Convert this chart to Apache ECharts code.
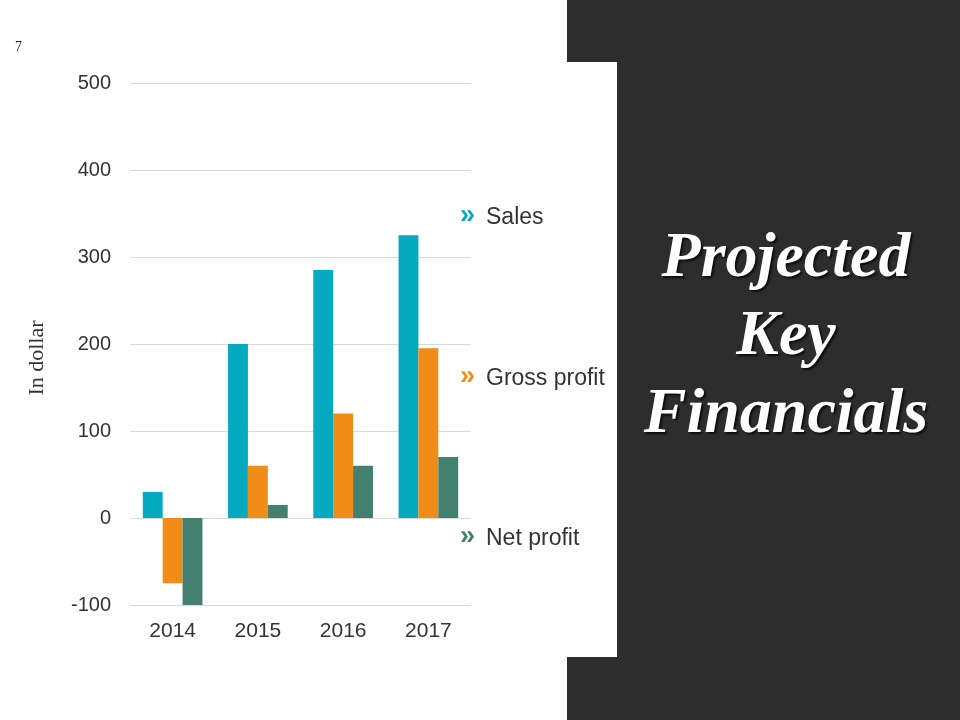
<!DOCTYPE html>
<html><head><meta charset="utf-8">
<script src="https://cdn.jsdelivr.net/npm/echarts@6/dist/echarts.min.js"></script>
<style>html,body{margin:0;padding:0;background:#fff}#c{width:960px;height:720px}</style>
</head><body><div id="c"></div>
<script>
const categories = ['2014', '2015', '2016', '2017'];
const sales = [30, 200, 285, 325];
const grossProfit = [-75, 60, 120, 195];
const netProfit = [-100, 15, 60, 70];
const seriesNames = ['Sales', 'Gross profit', 'Net profit'];
const colors = ['#05A9C0', '#EF8D18', '#43806F'];
const yTicks = { min: -100, max: 500, interval: 100 };

const chart = echarts.init(document.getElementById('c'));
const legendY = [218, 379, 539];
const graphics = [
  { type: 'rect', shape: { x: 567, y: 0, width: 393, height: 720 }, style: { fill: '#2d2d2d' }, z: -10 },
  { type: 'rect', shape: { x: 567, y: 62, width: 50, height: 595 }, style: { fill: '#ffffff' }, z: -9 },
  { type: 'text', x: 15, y: 47, style: { text: '7', font: '14px "Liberation Serif", serif', fill: '#222', verticalAlign: 'middle' } },
  { type: 'text', x: 37, y: 358, rotation: Math.PI / 2, style: { text: 'In dollar', font: '22px "Liberation Serif", serif', fill: '#333', align: 'center', verticalAlign: 'middle' } },
  { type: 'text', x: 786, y: 337, style: {
      text: 'Projected\nKey\nFinancials', font: 'italic bold 64px "Liberation Serif", serif', fill: '#ffffff',
      align: 'center', verticalAlign: 'middle', lineHeight: 78,
      textShadowColor: 'rgba(0,0,0,0.7)', textShadowBlur: 2, textShadowOffsetX: 2, textShadowOffsetY: 2 } }
];
seriesNames.forEach((n, i) => {
  graphics.push({ type: 'text', x: 460, y: legendY[i] - 2, style: {
    text: '»', font: 'bold 27px "Liberation Sans", Arial', fill: colors[i], verticalAlign: 'middle' } });
  graphics.push({ type: 'text', x: 486, y: legendY[i], style: {
    text: n, font: '23px "Liberation Sans", Arial', fill: '#333', verticalAlign: 'middle' } });
});

chart.setOption({
  animation: false,
  grid: { left: 130, right: 489, top: 83, bottom: 115 },
  xAxis: { type: 'category', data: categories, position: 'bottom',
    axisLine: { show: false }, axisTick: { show: false },
    axisLabel: { color: '#333', fontSize: 21, fontFamily: '"Liberation Sans", Arial', margin: 16 } },
  yAxis: { type: 'value', min: yTicks.min, max: yTicks.max, interval: yTicks.interval,
    axisLine: { show: false }, axisTick: { show: false },
    axisLabel: { color: '#333', fontSize: 20, fontFamily: '"Liberation Sans", Arial', margin: 19 },
    splitLine: { lineStyle: { color: '#d9d9d9', width: 1 } } },
  series: [
    { name: seriesNames[0], type: 'bar', data: sales, itemStyle: { color: colors[0] }, barGap: '0%', barCategoryGap: '30%' },
    { name: seriesNames[1], type: 'bar', data: grossProfit, itemStyle: { color: colors[1] } },
    { name: seriesNames[2], type: 'bar', data: netProfit, itemStyle: { color: colors[2] } }
  ],
  graphic: graphics
});
</script></body></html>
